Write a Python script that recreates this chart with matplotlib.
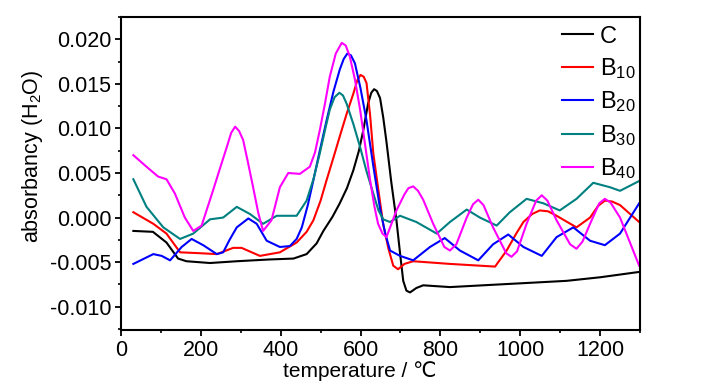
import matplotlib
matplotlib.use('Agg')
import matplotlib.pyplot as plt
from matplotlib.ticker import MultipleLocator

plt.rcParams['font.family'] = ['Liberation Sans', 'DejaVu Sans']
plt.rcParams['mathtext.fontset'] = 'custom'
plt.rcParams['mathtext.rm'] = 'Liberation Sans'
plt.rcParams['mathtext.it'] = 'Liberation Sans'

# datos (temperatura en ºC, absorbancia)
c_x = [31, 80, 114, 143, 164, 223, 290, 373, 432, 465, 490, 507, 530, 548, 566, 582, 596,
       607, 619, 627, 634, 641, 649, 657, 665, 677, 690, 699, 707, 715, 724, 740, 757, 824,
       907, 1033, 1116, 1200, 1298]
c_y = [-0.0015, -0.0016, -0.0028, -0.0046, -0.0049, -0.0051, -0.0049, -0.0047, -0.0046,
       -0.0041, -0.0029, -0.0015, 0.0001, 0.0016, 0.0033, 0.0053, 0.0075, 0.0098, 0.0128,
       0.0140, 0.0144, 0.0142, 0.0134, 0.0112, 0.0085, 0.0040, -0.0003, -0.0040, -0.0071,
       -0.0082, -0.0084, -0.0079, -0.0076, -0.0078, -0.0076, -0.0073, -0.0071, -0.0067,
       -0.0061]

b10_x = [31, 81, 114, 148, 198, 240, 281, 302, 348, 398, 440, 465, 482, 500, 515, 532, 548,
         565, 582, 592, 600, 608, 615, 624, 632, 645, 657, 670, 682, 694, 710, 732, 824,
         937, 966, 990, 1008, 1030, 1049, 1070, 1091, 1141, 1175, 1195, 1212, 1230, 1250,
         1298]
b10_y = [0.0006, -0.0007, -0.0018, -0.0039, -0.0040, -0.0041, -0.0034, -0.0034, -0.0043,
         -0.0039, -0.0028, -0.0016, -0.0003, 0.0019, 0.0042, 0.0067, 0.0091, 0.0116,
         0.0139, 0.0154, 0.0160, 0.0158, 0.0151, 0.0115, 0.0072, 0.0030, -0.0008, -0.0035,
         -0.0054, -0.0058, -0.0052, -0.0049, -0.0052, -0.0055, -0.0037, -0.0018, -0.0005,
         0.0004, 0.0008, 0.0007, 0.0002, -0.0011, 0.0000, 0.0013, 0.0019, 0.0018, 0.0014,
         -0.0005]

b20_x = [31, 81, 102, 123, 152, 177, 206, 240, 256, 272, 290, 319, 340, 365, 398, 423, 440,
         453, 468, 482, 498, 515, 532, 548, 558, 567, 576, 586, 600, 615, 632, 649, 662,
         674, 699, 732, 774, 811, 849, 895, 932, 970, 1008, 1054, 1091, 1133, 1175, 1212,
         1250, 1298]
b20_y = [-0.0052, -0.0041, -0.0043, -0.0048, -0.0033, -0.0024, -0.0031, -0.0041, -0.0039,
         -0.0025, -0.0011, -0.0001, -0.0007, -0.0026, -0.0033, -0.0032, -0.0024, -0.0011,
         0.0014, 0.0042, 0.0075, 0.0109, 0.0141, 0.0166, 0.0178, 0.0184, 0.0182, 0.0173,
         0.0145, 0.0109, 0.0058, 0.0010, -0.0018, -0.0037, -0.0043, -0.0048, -0.0033,
         -0.0023, -0.0037, -0.0048, -0.0030, -0.0019, -0.0033, -0.0043, -0.0022, -0.0011,
         -0.0026, -0.0031, -0.0018, 0.0016]

b30_x = [31, 64, 106, 148, 181, 223, 256, 290, 323, 356, 390, 440, 465, 482, 498, 512, 523,
         535, 547, 556, 565, 582, 599, 615, 632, 645, 657, 674, 699, 740, 791, 824, 866,
         899, 941, 974, 1016, 1058, 1099, 1141, 1183, 1225, 1250, 1298]
b30_y = [0.0043, 0.0012, -0.0011, -0.0024, -0.0018, -0.0002, 0.0000, 0.0012, 0.0004,
         -0.0007, 0.0002, 0.0002, 0.0019, 0.0043, 0.0072, 0.0100, 0.0121, 0.0135, 0.0140,
         0.0137, 0.0128, 0.0105, 0.0079, 0.0052, 0.0027, 0.0008, -0.0002, -0.0005, 0.0002,
         -0.0005, -0.0018, -0.0005, 0.0009, 0.0000, -0.0009, 0.0006, 0.0021, 0.0016,
         0.0008, 0.0021, 0.0039, 0.0034, 0.0030, 0.0041]

b40_x = [31, 64, 93, 114, 135, 160, 181, 202, 231, 250, 265, 276, 286, 296, 306, 318, 331,
         344, 356, 377, 398, 419, 448, 473, 486, 498, 511, 523, 538, 553, 563, 573, 586,
         599, 612, 624, 635, 644, 655, 665, 690, 710, 720, 732, 744, 757, 782, 810, 824, 840,
         866, 882, 895, 908, 932, 965, 978, 992, 1016, 1040, 1054, 1068, 1091, 1125, 1141,
         1156, 1175, 1198, 1212, 1226, 1250, 1298]
b40_y = [0.0070, 0.0057, 0.0046, 0.0043, 0.0027, 0.0000, -0.0015, -0.0009, 0.0031, 0.0058,
         0.0079, 0.0095, 0.0102, 0.0097, 0.0087, 0.0062, 0.0034, 0.0005, -0.0015, -0.0003,
         0.0034, 0.0050, 0.0049, 0.0057, 0.0073, 0.0098, 0.0128, 0.0158, 0.0184, 0.0196,
         0.0193, 0.0181, 0.0155, 0.0121, 0.0080, 0.0042, 0.0012, -0.0007, -0.0018, -0.0022,
         0.0008, 0.0026, 0.0033, 0.0035, 0.0030, 0.0020, -0.0007, -0.0033, -0.0037, -0.0030,
         0.0000, 0.0015, 0.0020, 0.0014, -0.0011, -0.0040, -0.0044, -0.0038, -0.0007,
         0.0019, 0.0025, 0.0019, -0.0003, -0.0030, -0.0035, -0.0027, -0.0007, 0.0016,
         0.0021, 0.0017, 0.0000, -0.0054]

series = [
    ('C', c_x, c_y, 'black'),
    ('B$_{10}$', b10_x, b10_y, '#ff0000'),
    ('B$_{20}$', b20_x, b20_y, '#0000ff'),
    ('B$_{30}$', b30_x, b30_y, '#008080'),
    ('B$_{40}$', b40_x, b40_y, '#ff00ff'),
]

fig = plt.figure(figsize=(7.27, 3.89), dpi=100)
ax = fig.add_axes([0.1664, 0.152, 0.7139, 0.8043])

for nombre, xs, ys, color in series:
    ax.plot(xs, ys, color=color, lw=1.5, label=nombre)

ax.set_xlim(0, 1300)
ax.set_ylim(-0.0126, 0.0225)
ax.xaxis.set_major_locator(MultipleLocator(200))
ax.xaxis.set_minor_locator(MultipleLocator(100))
ax.yaxis.set_major_locator(MultipleLocator(0.005))
ax.yaxis.set_minor_locator(MultipleLocator(0.0025))
ax.yaxis.set_major_formatter(plt.FuncFormatter(lambda v, p: f'{v:.3f}'.replace('-0.000', '0.000')))

for s in ax.spines.values():
    s.set_linewidth(1.5)
ax.tick_params(which='major', direction='out', length=4.5, width=1.3, labelsize=15.5, pad=2.5)
ax.tick_params(which='minor', direction='out', length=2.5, width=1.2)

ax.set_xlabel('temperature / ℃', fontsize=15)
ax.set_ylabel('absorbancy (H$_2$O)', fontsize=15.5)
ax.xaxis.set_label_coords(0.46, -0.1)
ax.yaxis.set_label_coords(-0.146, 0.554)

ax.legend(loc='upper left', bbox_to_anchor=(0.773, 0.934), bbox_transform=fig.transFigure,
          frameon=False, fontsize=17, handlelength=1.3, handletextpad=0.3,
          labelspacing=0.36, borderpad=0, borderaxespad=0)

fig.savefig('out.png', dpi=100)
